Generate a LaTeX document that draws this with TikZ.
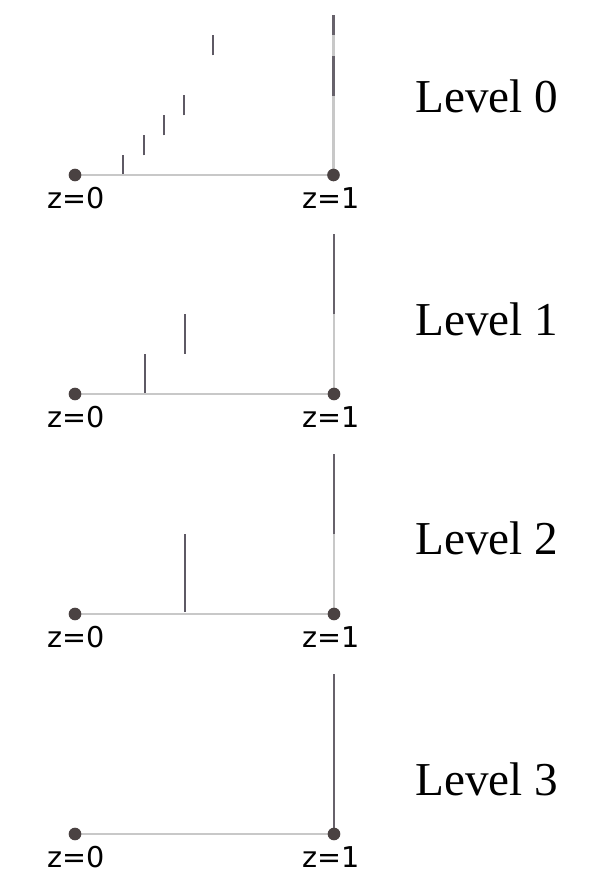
\documentclass[tikz,border=0pt]{standalone}
\usepackage{fontspec}
\setmainfont{Liberation Serif}
\newfontfamily\labfont{DejaVu Sans}
\definecolor{baseline}{HTML}{C8C8C8}
\definecolor{dotcol}{HTML}{4A4242}
\definecolor{tickcol}{HTML}{5E5964}
\definecolor{darkseg}{HTML}{67626B}
\begin{document}
\begin{tikzpicture}[x=0.75pt,y=-0.75pt,
  axisline/.style={draw=baseline,line width=1.9pt},
  darkline/.style={draw=darkseg,line width=1.7pt},
  tickline/.style={draw=tickcol,line width=1.3pt},
  enddot/.style={circle,fill=dotcol,inner sep=0pt,minimum size=9.5pt},
  zlab/.style={font=\labfont\fontsize{21.5pt}{25pt}\selectfont,inner sep=0pt,anchor=base},
  levlab/.style={font=\fontsize{35.4pt}{40pt}\selectfont,inner sep=0pt,anchor=base west}]
\useasboundingbox (0,0) rectangle (591,888);

% ---------- Panel 0 ----------
\begin{scope}[shift={(0,175)}]
\coordinate (p0a) at (75,0);
\coordinate (p0b) at (333.5,0);
\coordinate (p0v1) at (333.5,-79);
\coordinate (p0v2) at (333.5,-119);
\coordinate (p0v3) at (333.5,-140);
\coordinate (p0v4) at (333.5,-160);
\draw[axisline] (p0a) -- (p0b);
\draw[axisline] (p0b) -- (p0v1);
\draw[darkline] (p0v1) -- (p0v2);
\draw[axisline] (p0v2) -- (p0v3);
\draw[darkline] (p0v3) -- (p0v4);
\coordinate (t01a) at (123.3,-1); \coordinate (t01b) at (123.3,-19.5);
\coordinate (t02a) at (144,-19.5); \coordinate (t02b) at (144,-39.5);
\coordinate (t03a) at (164,-39.5); \coordinate (t03b) at (164,-59.5);
\coordinate (t04a) at (184,-59.5); \coordinate (t04b) at (184,-79.5);
\coordinate (t05a) at (213.3,-119.5); \coordinate (t05b) at (213.3,-140);
\draw[tickline] (t01a) -- (t01b);
\draw[tickline] (t02a) -- (t02b);
\draw[tickline] (t03a) -- (t03b);
\draw[tickline] (t04a) -- (t04b);
\draw[tickline] (t05a) -- (t05b);
\node[enddot] (d0a) at (p0a) {};
\node[enddot] (d0b) at (p0b) {};
\node[zlab] (z0a) at (76,33) {z=0};
\node[zlab] (z0b) at (331,33) {z=1};
\node[levlab] (lev0) at (415,-62) {Level 0};
\end{scope}

% ---------- Panel 1 ----------
\begin{scope}[shift={(0,394)}]
\coordinate (p1a) at (75,0);
\coordinate (p1b) at (334,0);
\coordinate (p1v1) at (334,-80);
\coordinate (p1v2) at (334,-160);
\draw[axisline] (p1a) -- (p1b);
\draw[axisline] (p1b) -- (p1v1);
\draw[darkline] (p1v1) -- (p1v2);
\coordinate (t11a) at (145,-1); \coordinate (t11b) at (145,-40);
\coordinate (t12a) at (185,-40.5); \coordinate (t12b) at (185,-80);
\draw[tickline] (t11a) -- (t11b);
\draw[tickline] (t12a) -- (t12b);
\node[enddot] (d1a) at (p1a) {};
\node[enddot] (d1b) at (p1b) {};
\node[zlab] (z1a) at (76,33) {z=0};
\node[zlab] (z1b) at (331,33) {z=1};
\node[levlab] (lev1) at (415,-59) {Level 1};
\end{scope}

% ---------- Panel 2 ----------
\begin{scope}[shift={(0,614)}]
\coordinate (p2a) at (75,0);
\coordinate (p2b) at (334,0);
\coordinate (p2v1) at (334,-80);
\coordinate (p2v2) at (334,-160);
\draw[axisline] (p2a) -- (p2b);
\draw[axisline] (p2b) -- (p2v1);
\draw[darkline] (p2v1) -- (p2v2);
\coordinate (t21a) at (185,-2); \coordinate (t21b) at (185,-80);
\draw[tickline] (t21a) -- (t21b);
\node[enddot] (d2a) at (p2a) {};
\node[enddot] (d2b) at (p2b) {};
\node[zlab] (z2a) at (76,33) {z=0};
\node[zlab] (z2b) at (331,33) {z=1};
\node[levlab] (lev2) at (415,-60) {Level 2};
\end{scope}

% ---------- Panel 3 ----------
\begin{scope}[shift={(0,834)}]
\coordinate (p3a) at (75,0);
\coordinate (p3b) at (334,0);
\coordinate (p3v2) at (334,-160);
\draw[axisline] (p3a) -- (p3b);
\draw[darkline] (p3b) -- (p3v2);
\node[enddot] (d3a) at (p3a) {};
\node[enddot] (d3b) at (p3b) {};
\node[zlab] (z3a) at (76,33) {z=0};
\node[zlab] (z3b) at (331,33) {z=1};
\node[levlab] (lev3) at (415,-39) {Level 3};
\end{scope}
\end{tikzpicture}
\end{document}
